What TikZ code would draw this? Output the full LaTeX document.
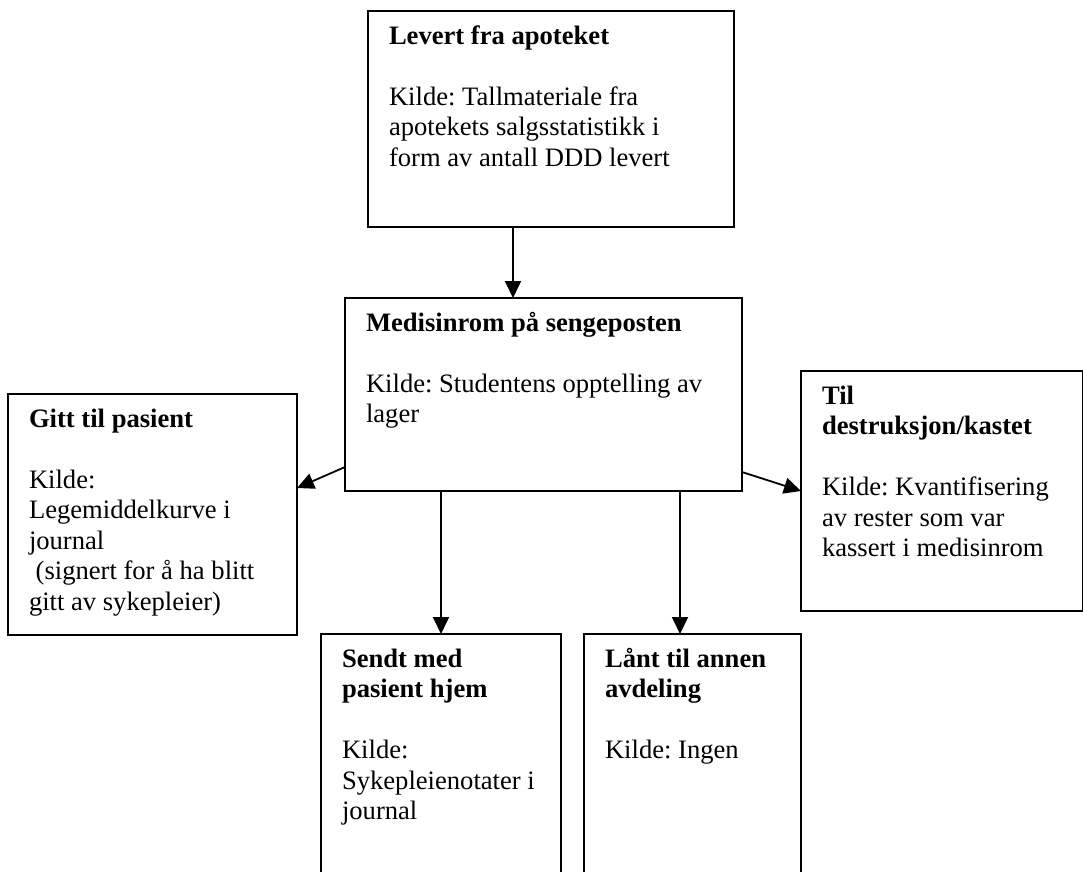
\documentclass[tikz,border=0pt]{standalone}
\usepackage{fontspec}
\setmainfont{Liberation Serif}
\usetikzlibrary{arrows.meta,calc}
\newcommand\boxtxt[3]{\parbox[t][#2][t]{#1}{\raggedright\frenchspacing\strut #3}}
\newlength\blankline
\setlength\blankline{30.5pt}
\tikzset{
  flowbox/.style={draw=black, line width=2pt, anchor=north west, outer sep=0pt,
    inner xsep=21pt, inner ysep=12pt, align=left,
    font={\fontsize{26.6pt}{30.5pt}\selectfont}},
  flowarrow/.style={draw=black, line width=1.8pt, -{Triangle[length=17pt,width=16pt]}}
}
\begin{document}
\begin{tikzpicture}[x=1pt,y=-1pt]
\useasboundingbox (0,0) rectangle (1083,871);
\fill[white] (0,0) rectangle (1083,871);
\clip (0,0) rectangle (1083,871);

% boxes: width W, height H -> parbox W-42, H-24
\node[flowbox] (A) at (368,11) {\boxtxt{324pt}{192pt}{{\bfseries Levert fra apoteket}\\[\blankline]Kilde: Tallmateriale fra\\apotekets salgsstatistikk i\\form av antall DDD levert}};
\node[flowbox] (B) at (345,298) {\boxtxt{355pt}{169pt}{{\bfseries Medisinrom på sengeposten}\\[\blankline]Kilde: Studentens opptelling av\\lager}};
\node[flowbox] (C) at (8,394) {\boxtxt{247pt}{217pt}{{\bfseries Gitt til pasient}\\[\blankline]Kilde:\\Legemiddelkurve i\\journal\\\hspace*{0.25em}(signert for å ha blitt\\gitt av sykepleier)}};
\node[flowbox] (D) at (801,371) {\boxtxt{240pt}{216pt}{{\bfseries Til\\destruksjon/kastet}\\[\blankline]Kilde: Kvantifisering\\av rester som var\\kassert i medisinrom}};
\node[flowbox] (E) at (321,634) {\boxtxt{198pt}{276pt}{{\bfseries Sendt med\\pasient hjem}\\[\blankline]Kilde:\\Sykepleienotater i\\journal}};
\node[flowbox] (F) at (584,634) {\boxtxt{175pt}{276pt}{{\bfseries Lånt til annen\\avdeling}\\[\blankline]Kilde: Ingen}};

% connector anchor points
\coordinate (a1) at ($(A.south west)+(145,0)$);
\coordinate (b1) at ($(B.south west)+(96,0)$);
\coordinate (b2) at ($(B.south west)+(335,0)$);
\coordinate (bl) at ($(B.south west)+(0,-24)$);
\coordinate (br) at ($(B.south east)+(0,-19)$);
\coordinate (ce) at ($(C.north east)+(0,94)$);
\coordinate (dw) at ($(D.north west)+(0,120)$);

\draw[flowarrow] (a1) -- (a1 |- B.north);
\draw[flowarrow] (bl) -- (ce);
\draw[flowarrow] (br) -- (dw);
\draw[flowarrow] (b1) -- (b1 |- E.north);
\draw[flowarrow] (b2) -- (b2 |- F.north);
\end{tikzpicture}
\end{document}
